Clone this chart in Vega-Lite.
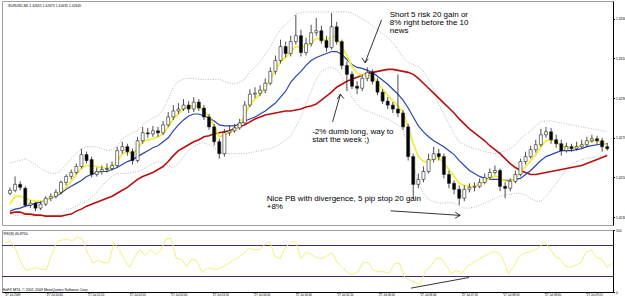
{
  "$schema": "https://vega.github.io/schema/vega-lite/v6.json",
  "padding": {"left": 1, "top": 0, "right": 0, "bottom": 0},
  "background": "white",
  "spacing": 1,
  "config": {
    "font": "Liberation Sans",
    "view": {"stroke": "#a0a0a0", "strokeWidth": 1},
    "text": {"font": "Liberation Sans"},
    "axis": {"labelFont": "Liberation Sans", "labelFontSize": 3.3, "labelColor": "#000", "tickColor": "#000", "domainColor": "#000", "tickSize": 1.5, "labelPadding": 1, "grid": false, "title": null, "labelOverlap": false, "labelBound": false}
  },
  "datasets": {
    "bars": [
      {"i":0,"o":1.4242,"h":1.4245,"l":1.4241,"c":1.42435,"f":1.42365,"m":1.4233,"s":1.4232,"u":1.4257,"d":1.42315,"r":78.6},
      {"i":1,"o":1.42435,"h":1.42505,"l":1.42425,"c":1.42465,"f":1.42405,"m":1.4234,"s":1.42325,"u":1.4258,"d":1.4231,"r":82.8},
      {"i":2,"o":1.42465,"h":1.4248,"l":1.42435,"c":1.4245,"f":1.42405,"m":1.42345,"s":1.42325,"u":1.42585,"d":1.4231,"r":70.8},
      {"i":3,"o":1.42445,"h":1.42455,"l":1.4235,"c":1.4236,"f":1.42395,"m":1.42355,"s":1.42315,"u":1.42595,"d":1.42305,"r":48.4},
      {"i":4,"o":1.4236,"h":1.42385,"l":1.42345,"c":1.4237,"f":1.42385,"m":1.4236,"s":1.42315,"u":1.4258,"d":1.42305,"r":34.8},
      {"i":5,"o":1.4237,"h":1.42375,"l":1.4233,"c":1.42345,"f":1.4238,"m":1.4237,"s":1.4231,"u":1.42565,"d":1.42305,"r":37.0},
      {"i":6,"o":1.42345,"h":1.4238,"l":1.42335,"c":1.42365,"f":1.4238,"m":1.42375,"s":1.4231,"u":1.42545,"d":1.42305,"r":39.1},
      {"i":7,"o":1.42365,"h":1.42405,"l":1.42355,"c":1.42395,"f":1.42385,"m":1.42385,"s":1.42305,"u":1.4253,"d":1.42305,"r":37.0},
      {"i":8,"o":1.42395,"h":1.4242,"l":1.4238,"c":1.42405,"f":1.42395,"m":1.42395,"s":1.42305,"u":1.4252,"d":1.42305,"r":35.9},
      {"i":9,"o":1.42405,"h":1.4244,"l":1.42395,"c":1.42425,"f":1.4241,"m":1.42405,"s":1.42305,"u":1.4252,"d":1.4231,"r":60.9},
      {"i":10,"o":1.42425,"h":1.42485,"l":1.42415,"c":1.42475,"f":1.4243,"m":1.4242,"s":1.42305,"u":1.42535,"d":1.42315,"r":81.3},
      {"i":11,"o":1.42475,"h":1.42515,"l":1.4246,"c":1.42505,"f":1.4245,"m":1.4244,"s":1.4231,"u":1.42565,"d":1.42335,"r":83.9},
      {"i":12,"o":1.42505,"h":1.4254,"l":1.4249,"c":1.42525,"f":1.4248,"m":1.42455,"s":1.42315,"u":1.42595,"d":1.42345,"r":84.8},
      {"i":13,"o":1.42525,"h":1.4257,"l":1.42515,"c":1.42555,"f":1.42515,"m":1.4247,"s":1.4233,"u":1.4262,"d":1.42355,"r":82.8},
      {"i":14,"o":1.42555,"h":1.42645,"l":1.42545,"c":1.42615,"f":1.42545,"m":1.42485,"s":1.4234,"u":1.42645,"d":1.4237,"r":89.1},
      {"i":15,"o":1.42615,"h":1.4263,"l":1.4257,"c":1.42585,"f":1.4256,"m":1.42505,"s":1.42355,"u":1.42655,"d":1.4238,"r":83.9},
      {"i":16,"o":1.4259,"h":1.42605,"l":1.425,"c":1.42515,"f":1.4256,"m":1.42515,"s":1.42365,"u":1.42655,"d":1.424,"r":60.9},
      {"i":17,"o":1.42515,"h":1.4255,"l":1.42505,"c":1.4253,"f":1.42555,"m":1.42525,"s":1.42375,"u":1.42655,"d":1.42425,"r":46.4},
      {"i":18,"o":1.4253,"h":1.4256,"l":1.42515,"c":1.4254,"f":1.4255,"m":1.4253,"s":1.42385,"u":1.42645,"d":1.42455,"r":51.1},
      {"i":19,"o":1.4254,"h":1.4257,"l":1.42525,"c":1.42545,"f":1.42545,"m":1.4253,"s":1.42395,"u":1.42635,"d":1.42485,"r":47.3},
      {"i":20,"o":1.42545,"h":1.4258,"l":1.42535,"c":1.4256,"f":1.42555,"m":1.4254,"s":1.42405,"u":1.4264,"d":1.42505,"r":47.3},
      {"i":21,"o":1.4256,"h":1.42655,"l":1.4255,"c":1.42635,"f":1.4258,"m":1.4255,"s":1.4242,"u":1.42655,"d":1.4252,"r":79.7},
      {"i":22,"o":1.42635,"h":1.4268,"l":1.4262,"c":1.42655,"f":1.4262,"m":1.42565,"s":1.42435,"u":1.42695,"d":1.4252,"r":68.3},
      {"i":23,"o":1.42655,"h":1.4267,"l":1.4261,"c":1.4263,"f":1.4263,"m":1.4258,"s":1.4245,"u":1.4271,"d":1.4252,"r":52.7},
      {"i":24,"o":1.4263,"h":1.42645,"l":1.42565,"c":1.42585,"f":1.4262,"m":1.4259,"s":1.4247,"u":1.42725,"d":1.42525,"r":39.5},
      {"i":25,"o":1.42585,"h":1.42705,"l":1.42575,"c":1.42685,"f":1.42645,"m":1.42605,"s":1.4249,"u":1.42735,"d":1.4253,"r":56.7},
      {"i":26,"o":1.42685,"h":1.42755,"l":1.4267,"c":1.42725,"f":1.4268,"m":1.4262,"s":1.42505,"u":1.42765,"d":1.4254,"r":68.3},
      {"i":27,"o":1.42725,"h":1.4275,"l":1.427,"c":1.4272,"f":1.4269,"m":1.42635,"s":1.42515,"u":1.42785,"d":1.42555,"r":58.9},
      {"i":28,"o":1.4272,"h":1.4276,"l":1.42705,"c":1.42735,"f":1.42695,"m":1.4265,"s":1.42525,"u":1.428,"d":1.4257,"r":68.3},
      {"i":29,"o":1.42735,"h":1.42755,"l":1.42705,"c":1.42725,"f":1.42705,"m":1.4266,"s":1.4254,"u":1.4281,"d":1.4258,"r":60.9},
      {"i":30,"o":1.42725,"h":1.42785,"l":1.42715,"c":1.42765,"f":1.4272,"m":1.4268,"s":1.42555,"u":1.42845,"d":1.42575,"r":67.2},
      {"i":31,"o":1.42765,"h":1.4283,"l":1.42755,"c":1.42805,"f":1.42755,"m":1.427,"s":1.4258,"u":1.42895,"d":1.4256,"r":85.5},
      {"i":32,"o":1.42805,"h":1.42865,"l":1.4279,"c":1.42835,"f":1.42795,"m":1.42735,"s":1.4261,"u":1.42955,"d":1.4255,"r":86.4},
      {"i":33,"o":1.42835,"h":1.42875,"l":1.4282,"c":1.42845,"f":1.4282,"m":1.42765,"s":1.42635,"u":1.42985,"d":1.4257,"r":54.2},
      {"i":34,"o":1.42845,"h":1.42895,"l":1.42835,"c":1.42865,"f":1.42845,"m":1.4279,"s":1.4265,"u":1.42995,"d":1.42605,"r":52.7},
      {"i":35,"o":1.42865,"h":1.42885,"l":1.42825,"c":1.42845,"f":1.42855,"m":1.4281,"s":1.42665,"u":1.43,"d":1.42635,"r":41.1},
      {"i":36,"o":1.42845,"h":1.42905,"l":1.4283,"c":1.4288,"f":1.42865,"m":1.4282,"s":1.4268,"u":1.43,"d":1.42655,"r":53.6},
      {"i":37,"o":1.4288,"h":1.42895,"l":1.42835,"c":1.4285,"f":1.42855,"m":1.4282,"s":1.4269,"u":1.42995,"d":1.4267,"r":49.5},
      {"i":38,"o":1.4285,"h":1.42865,"l":1.4279,"c":1.42805,"f":1.42835,"m":1.4281,"s":1.42705,"u":1.42995,"d":1.42675,"r":31.7},
      {"i":39,"o":1.42805,"h":1.4282,"l":1.4274,"c":1.42755,"f":1.42805,"m":1.428,"s":1.4271,"u":1.42995,"d":1.42665,"r":38.6},
      {"i":40,"o":1.42755,"h":1.4277,"l":1.4266,"c":1.4268,"f":1.4276,"m":1.42785,"s":1.4272,"u":1.42995,"d":1.4265,"r":37.5},
      {"i":41,"o":1.4268,"h":1.42695,"l":1.42595,"c":1.4262,"f":1.42705,"m":1.42765,"s":1.42725,"u":1.42995,"d":1.4263,"r":37.0},
      {"i":42,"o":1.4262,"h":1.42745,"l":1.42605,"c":1.42725,"f":1.42715,"m":1.4276,"s":1.4273,"u":1.42985,"d":1.4262,"r":41.1},
      {"i":43,"o":1.42725,"h":1.4276,"l":1.4271,"c":1.42735,"f":1.42725,"m":1.4276,"s":1.42735,"u":1.42975,"d":1.4262,"r":45.3},
      {"i":44,"o":1.42735,"h":1.4277,"l":1.42725,"c":1.4275,"f":1.4274,"m":1.4276,"s":1.42745,"u":1.4297,"d":1.4262,"r":51.6},
      {"i":45,"o":1.4275,"h":1.42795,"l":1.4274,"c":1.42775,"f":1.42765,"m":1.4277,"s":1.42755,"u":1.4298,"d":1.4262,"r":55.8},
      {"i":46,"o":1.42775,"h":1.42885,"l":1.42765,"c":1.42865,"f":1.42815,"m":1.42785,"s":1.42765,"u":1.42995,"d":1.4262,"r":62.0},
      {"i":47,"o":1.42865,"h":1.42945,"l":1.42855,"c":1.4292,"f":1.42865,"m":1.42795,"s":1.4278,"u":1.43035,"d":1.42625,"r":70.3},
      {"i":48,"o":1.4292,"h":1.42955,"l":1.429,"c":1.42925,"f":1.42895,"m":1.42805,"s":1.42795,"u":1.43055,"d":1.4263,"r":68.3},
      {"i":49,"o":1.42925,"h":1.42965,"l":1.4291,"c":1.4294,"f":1.4292,"m":1.4282,"s":1.42805,"u":1.43085,"d":1.42635,"r":68.3},
      {"i":50,"o":1.4294,"h":1.43,"l":1.42925,"c":1.42975,"f":1.42955,"m":1.42835,"s":1.42815,"u":1.4312,"d":1.4264,"r":76.1},
      {"i":51,"o":1.42975,"h":1.43055,"l":1.42965,"c":1.43035,"f":1.42995,"m":1.42855,"s":1.4282,"u":1.4316,"d":1.42645,"r":81.3},
      {"i":52,"o":1.43035,"h":1.43115,"l":1.4302,"c":1.4309,"f":1.4304,"m":1.42875,"s":1.42825,"u":1.43205,"d":1.42655,"r":57.3},
      {"i":53,"o":1.4309,"h":1.43195,"l":1.43075,"c":1.4316,"f":1.43085,"m":1.42905,"s":1.4283,"u":1.43245,"d":1.4267,"r":53.6},
      {"i":54,"o":1.4316,"h":1.43185,"l":1.43105,"c":1.43125,"f":1.43105,"m":1.42935,"s":1.42835,"u":1.4327,"d":1.4269,"r":70.8},
      {"i":55,"o":1.43125,"h":1.43215,"l":1.4311,"c":1.43185,"f":1.43135,"m":1.4298,"s":1.42835,"u":1.43295,"d":1.4271,"r":80.2},
      {"i":56,"o":1.43185,"h":1.4332,"l":1.4317,"c":1.43215,"f":1.4316,"m":1.4301,"s":1.4284,"u":1.43325,"d":1.42755,"r":81.3},
      {"i":57,"o":1.43215,"h":1.43245,"l":1.4311,"c":1.4313,"f":1.43155,"m":1.43035,"s":1.42845,"u":1.4333,"d":1.42805,"r":53.6},
      {"i":58,"o":1.4313,"h":1.43205,"l":1.43115,"c":1.43175,"f":1.4316,"m":1.43065,"s":1.42855,"u":1.43335,"d":1.4287,"r":64.5},
      {"i":59,"o":1.43175,"h":1.4327,"l":1.4316,"c":1.4323,"f":1.4318,"m":1.4309,"s":1.4286,"u":1.43335,"d":1.42935,"r":60.5},
      {"i":60,"o":1.4323,"h":1.43305,"l":1.43215,"c":1.4324,"f":1.432,"m":1.43105,"s":1.4287,"u":1.43335,"d":1.42995,"r":55.5},
      {"i":61,"o":1.4324,"h":1.43265,"l":1.43175,"c":1.4319,"f":1.432,"m":1.43115,"s":1.4289,"u":1.43335,"d":1.43035,"r":53.9},
      {"i":62,"o":1.4319,"h":1.43215,"l":1.43135,"c":1.43155,"f":1.4319,"m":1.43125,"s":1.4291,"u":1.43335,"d":1.4305,"r":57.8},
      {"i":63,"o":1.43155,"h":1.4333,"l":1.43145,"c":1.4326,"f":1.43215,"m":1.43135,"s":1.4293,"u":1.43335,"d":1.43055,"r":63.3},
      {"i":64,"o":1.4326,"h":1.43285,"l":1.4317,"c":1.43185,"f":1.43205,"m":1.43135,"s":1.42955,"u":1.43335,"d":1.43045,"r":48.4},
      {"i":65,"o":1.43185,"h":1.43195,"l":1.43045,"c":1.43065,"f":1.4316,"m":1.4312,"s":1.4297,"u":1.43335,"d":1.4301,"r":39.8},
      {"i":66,"o":1.43065,"h":1.43085,"l":1.42935,"c":1.4302,"f":1.43115,"m":1.43095,"s":1.42985,"u":1.43335,"d":1.42955,"r":31.7},
      {"i":67,"o":1.4302,"h":1.43035,"l":1.42945,"c":1.4296,"f":1.4306,"m":1.4307,"s":1.42995,"u":1.4333,"d":1.42905,"r":28.1},
      {"i":68,"o":1.4296,"h":1.42985,"l":1.4292,"c":1.4295,"f":1.43025,"m":1.43055,"s":1.43005,"u":1.43315,"d":1.4287,"r":32.0},
      {"i":69,"o":1.4295,"h":1.4302,"l":1.42935,"c":1.43,"f":1.43015,"m":1.4305,"s":1.43015,"u":1.433,"d":1.42845,"r":48.4},
      {"i":70,"o":1.43,"h":1.43055,"l":1.42985,"c":1.4303,"f":1.4302,"m":1.4304,"s":1.43025,"u":1.43285,"d":1.42835,"r":46.9},
      {"i":71,"o":1.4303,"h":1.43045,"l":1.4297,"c":1.42985,"f":1.4301,"m":1.4303,"s":1.4303,"u":1.43265,"d":1.42825,"r":35.2},
      {"i":72,"o":1.42985,"h":1.43,"l":1.42915,"c":1.4293,"f":1.4298,"m":1.4301,"s":1.43035,"u":1.43245,"d":1.42815,"r":32.8},
      {"i":73,"o":1.4293,"h":1.42945,"l":1.4287,"c":1.42885,"f":1.42945,"m":1.4299,"s":1.4304,"u":1.43225,"d":1.42805,"r":32.8},
      {"i":74,"o":1.42885,"h":1.42905,"l":1.42845,"c":1.42865,"f":1.42915,"m":1.4297,"s":1.43045,"u":1.43205,"d":1.42795,"r":29.7},
      {"i":75,"o":1.42865,"h":1.4288,"l":1.42825,"c":1.42845,"f":1.42885,"m":1.42945,"s":1.43045,"u":1.4318,"d":1.4278,"r":45.3},
      {"i":76,"o":1.42845,"h":1.4302,"l":1.42805,"c":1.42825,"f":1.4286,"m":1.4292,"s":1.4304,"u":1.43145,"d":1.42765,"r":46.9},
      {"i":77,"o":1.42825,"h":1.4284,"l":1.4274,"c":1.42755,"f":1.42825,"m":1.4289,"s":1.43035,"u":1.43105,"d":1.42735,"r":24.2},
      {"i":78,"o":1.42755,"h":1.4277,"l":1.42585,"c":1.42605,"f":1.42755,"m":1.4285,"s":1.4303,"u":1.4308,"d":1.4267,"r":19.5},
      {"i":79,"o":1.42605,"h":1.4262,"l":1.42395,"c":1.42465,"f":1.4267,"m":1.42805,"s":1.4302,"u":1.4307,"d":1.4257,"r":15.6},
      {"i":80,"o":1.42465,"h":1.4252,"l":1.42445,"c":1.4249,"f":1.42605,"m":1.4276,"s":1.43,"u":1.4306,"d":1.4247,"r":11.7},
      {"i":81,"o":1.4249,"h":1.42555,"l":1.42475,"c":1.4253,"f":1.4258,"m":1.4273,"s":1.42975,"u":1.43035,"d":1.4242,"r":34.4},
      {"i":82,"o":1.4253,"h":1.4262,"l":1.4252,"c":1.4259,"f":1.4258,"m":1.42705,"s":1.4295,"u":1.42995,"d":1.4239,"r":40.6},
      {"i":83,"o":1.4259,"h":1.42655,"l":1.42575,"c":1.4262,"f":1.42595,"m":1.42685,"s":1.42925,"u":1.42945,"d":1.4238,"r":53.1},
      {"i":84,"o":1.4262,"h":1.42645,"l":1.42585,"c":1.42605,"f":1.426,"m":1.4267,"s":1.429,"u":1.4287,"d":1.4237,"r":55.2},
      {"i":85,"o":1.42605,"h":1.4262,"l":1.42495,"c":1.42515,"f":1.42575,"m":1.42655,"s":1.42875,"u":1.4282,"d":1.4237,"r":43.0},
      {"i":86,"o":1.42515,"h":1.42535,"l":1.42445,"c":1.4247,"f":1.4254,"m":1.42635,"s":1.4285,"u":1.4277,"d":1.42375,"r":29.7},
      {"i":87,"o":1.4247,"h":1.42485,"l":1.42415,"c":1.4244,"f":1.42505,"m":1.42615,"s":1.42825,"u":1.4272,"d":1.4237,"r":35.2},
      {"i":88,"o":1.4244,"h":1.4246,"l":1.4236,"c":1.42395,"f":1.4247,"m":1.42585,"s":1.42795,"u":1.4268,"d":1.42355,"r":29.7},
      {"i":89,"o":1.42395,"h":1.4246,"l":1.4238,"c":1.4244,"f":1.4246,"m":1.4256,"s":1.4277,"u":1.42665,"d":1.42345,"r":40.6},
      {"i":90,"o":1.4244,"h":1.4247,"l":1.42425,"c":1.4245,"f":1.42455,"m":1.42535,"s":1.42745,"u":1.42655,"d":1.42345,"r":46.1},
      {"i":91,"o":1.4245,"h":1.42475,"l":1.4243,"c":1.42455,"f":1.42455,"m":1.4252,"s":1.42725,"u":1.42645,"d":1.4235,"r":50.8},
      {"i":92,"o":1.42455,"h":1.42495,"l":1.42445,"c":1.42475,"f":1.42465,"m":1.42505,"s":1.42705,"u":1.4264,"d":1.4236,"r":56.3},
      {"i":93,"o":1.42475,"h":1.4252,"l":1.42465,"c":1.425,"f":1.4248,"m":1.42495,"s":1.42685,"u":1.4263,"d":1.4237,"r":60.9},
      {"i":94,"o":1.425,"h":1.42545,"l":1.4249,"c":1.42525,"f":1.42495,"m":1.4249,"s":1.4266,"u":1.42625,"d":1.4238,"r":64.8},
      {"i":95,"o":1.42525,"h":1.4256,"l":1.42515,"c":1.42535,"f":1.4251,"m":1.4249,"s":1.4264,"u":1.4262,"d":1.42395,"r":64.1},
      {"i":96,"o":1.42535,"h":1.42545,"l":1.4243,"c":1.42455,"f":1.42495,"m":1.4249,"s":1.4262,"u":1.42625,"d":1.42405,"r":51.6},
      {"i":97,"o":1.42455,"h":1.42475,"l":1.42395,"c":1.42445,"f":1.4248,"m":1.42485,"s":1.42595,"u":1.42635,"d":1.4241,"r":29.7},
      {"i":98,"o":1.42445,"h":1.42495,"l":1.4243,"c":1.4248,"f":1.4248,"m":1.42485,"s":1.4257,"u":1.42645,"d":1.42415,"r":40.6},
      {"i":99,"o":1.4248,"h":1.42535,"l":1.4247,"c":1.42515,"f":1.42495,"m":1.4249,"s":1.4255,"u":1.42665,"d":1.4242,"r":56.3},
      {"i":100,"o":1.42515,"h":1.42595,"l":1.42505,"c":1.4258,"f":1.42525,"m":1.42495,"s":1.42535,"u":1.42695,"d":1.4242,"r":62.5},
      {"i":101,"o":1.4258,"h":1.4263,"l":1.42565,"c":1.42605,"f":1.42555,"m":1.42515,"s":1.42525,"u":1.42715,"d":1.4241,"r":64.8},
      {"i":102,"o":1.42605,"h":1.4266,"l":1.42595,"c":1.4264,"f":1.42585,"m":1.42535,"s":1.42515,"u":1.42735,"d":1.42395,"r":67.2},
      {"i":103,"o":1.4264,"h":1.4269,"l":1.42625,"c":1.42665,"f":1.42615,"m":1.4256,"s":1.42515,"u":1.4276,"d":1.4238,"r":72.7},
      {"i":104,"o":1.42665,"h":1.42745,"l":1.42655,"c":1.42715,"f":1.42655,"m":1.42585,"s":1.4252,"u":1.4278,"d":1.4238,"r":80.9},
      {"i":105,"o":1.42715,"h":1.42755,"l":1.427,"c":1.4273,"f":1.42685,"m":1.42605,"s":1.42525,"u":1.42785,"d":1.42405,"r":70.3},
      {"i":106,"o":1.4273,"h":1.4275,"l":1.4267,"c":1.4269,"f":1.4269,"m":1.42615,"s":1.4253,"u":1.42785,"d":1.42435,"r":57.0},
      {"i":107,"o":1.4269,"h":1.42715,"l":1.4265,"c":1.4267,"f":1.4268,"m":1.42625,"s":1.42535,"u":1.4278,"d":1.4247,"r":53.1},
      {"i":108,"o":1.4267,"h":1.4269,"l":1.4261,"c":1.42635,"f":1.4266,"m":1.42635,"s":1.4254,"u":1.42775,"d":1.42505,"r":41.4},
      {"i":109,"o":1.42635,"h":1.42675,"l":1.42625,"c":1.42655,"f":1.42655,"m":1.42635,"s":1.42545,"u":1.4277,"d":1.4254,"r":39.8},
      {"i":110,"o":1.42655,"h":1.4267,"l":1.4263,"c":1.42645,"f":1.4265,"m":1.42635,"s":1.4255,"u":1.42765,"d":1.42565,"r":43.8},
      {"i":111,"o":1.42645,"h":1.4268,"l":1.42635,"c":1.42655,"f":1.42655,"m":1.4264,"s":1.42555,"u":1.4276,"d":1.4258,"r":47.7},
      {"i":112,"o":1.42655,"h":1.4269,"l":1.42645,"c":1.42665,"f":1.4266,"m":1.42645,"s":1.4256,"u":1.42755,"d":1.4259,"r":64.8},
      {"i":113,"o":1.42665,"h":1.42705,"l":1.42655,"c":1.42685,"f":1.42675,"m":1.42655,"s":1.4257,"u":1.4275,"d":1.42595,"r":67.5},
      {"i":114,"o":1.42685,"h":1.42715,"l":1.42675,"c":1.42695,"f":1.42685,"m":1.4266,"s":1.4258,"u":1.42745,"d":1.426,"r":55.5},
      {"i":115,"o":1.42695,"h":1.4271,"l":1.42665,"c":1.42685,"f":1.42685,"m":1.42665,"s":1.4259,"u":1.4274,"d":1.42605,"r":52.7},
      {"i":116,"o":1.42685,"h":1.427,"l":1.4263,"c":1.42655,"f":1.42675,"m":1.4267,"s":1.426,"u":1.42735,"d":1.4261,"r":39.8},
      {"i":117,"o":1.42655,"h":1.42675,"l":1.42635,"c":1.42645,"f":1.42665,"m":1.4267,"s":1.4261,"u":1.4273,"d":1.42615,"r":46.9}
    ],
    "notes": [
      {"i": 74.4, "p": 1.4334, "txt": ["Short 5 risk 20 gain or", "8% right before the 10", "news"]},
      {"i": 59.2, "p": 1.4275, "txt": ["-2% dumb long, way to", "start the week ;)"]},
      {"i": 50.3, "p": 1.424115, "txt": ["Nice PB with divergence, 5 pip stop 20 gain", "+8%"]}
    ],
    "header": [
      {"i": -0.3, "p": 1.43365, "txt": "EURUSD,M5  1.42655 1.42675 1.42635 1.42645"}
    ],
    "arrows": [
      {"i": 72.8, "p": 1.43295, "i2": 69.56, "p2": 1.430785},
      {"i": 68.92, "p": 1.431035, "i2": 69.56, "p2": 1.430785},
      {"i": 70.19, "p": 1.430985, "i2": 69.56, "p2": 1.430785},
      {"i": 63.2, "p": 1.4278, "i2": 64.74, "p2": 1.4292},
      {"i": 64.1, "p": 1.42895, "i2": 64.74, "p2": 1.4292},
      {"i": 65.38, "p": 1.428985, "i2": 64.74, "p2": 1.4292},
      {"i": 74.57, "p": 1.423315, "i2": 88.19, "p2": 1.423085},
      {"i": 87.22, "p": 1.42325, "i2": 88.19, "p2": 1.423085},
      {"i": 87.22, "p": 1.42295, "i2": 88.19, "p2": 1.423085}
    ],
    "levels": [{"lv": 75}, {"lv": 25}],
    "divergence": [{"i": 78.23, "r": 6.25, "i2": 89.4, "r2": 23.4}],
    "rsitext": [
      {"i": -0.3, "r": 94, "txt": "RSI(8) 46.8750"},
      {"i": -0.4, "r": 3.5, "txt": "EoFX MT4, © 2001-2009 MetaQuotes Software Corp."}
    ]
  },
  "vconcat": [
    {
      "width": 611,
      "height": 224,
      "data": {"name": "bars"},
      "encoding": {
        "x": {"field": "i", "type": "quantitative", "scale": {"domain": [-0.58, 117.15], "nice": false, "zero": false}, "axis": null}
      },
      "layer": [
        {"mark": {"type": "line", "color": "#999", "strokeWidth": 0.7, "strokeDash": [1, 1.5]}, "encoding": {"y": {"field": "u", "type": "quantitative", "scale": {"domain": [1.4226, 1.4339], "nice": false, "zero": false}, "axis": {"orient": "right", "labelOverlap": false, "labelBound": false, "labelFlush": false, "labelSeparation": 0, "values": [1.423, 1.4235, 1.424, 1.4245, 1.425, 1.4255, 1.426, 1.4265, 1.427, 1.4275, 1.428, 1.4285, 1.429, 1.4295, 1.43, 1.4305, 1.431, 1.4315, 1.432, 1.4325, 1.433, 1.4335], "format": ".4f"}}}},
        {"mark": {"type": "line", "color": "#999", "strokeWidth": 0.7, "strokeDash": [1, 1.5]}, "encoding": {"y": {"field": "d", "type": "quantitative", "scale": {"domain": [1.4226, 1.4339], "nice": false, "zero": false}}}},
        {"mark": {"type": "line", "color": "#b80f0f", "strokeWidth": 1.6}, "encoding": {"y": {"field": "s", "type": "quantitative", "scale": {"domain": [1.4226, 1.4339], "nice": false, "zero": false}}}},
        {"mark": {"type": "line", "color": "#2a44b0", "strokeWidth": 1.2}, "encoding": {"y": {"field": "m", "type": "quantitative", "scale": {"domain": [1.4226, 1.4339], "nice": false, "zero": false}}}},
        {"mark": {"type": "line", "color": "#f2ee40", "strokeWidth": 1.8}, "encoding": {"y": {"field": "f", "type": "quantitative", "scale": {"domain": [1.4226, 1.4339], "nice": false, "zero": false}}}},
        {"mark": {"type": "rule", "color": "#222", "strokeWidth": 0.8}, "encoding": {"y": {"field": "l", "type": "quantitative", "scale": {"domain": [1.4226, 1.4339], "nice": false, "zero": false}}, "y2": {"field": "h"}}},
        {"mark": {"type": "bar", "width": 3, "stroke": "#222", "strokeWidth": 0.6}, "encoding": {"y": {"field": "o", "type": "quantitative", "scale": {"domain": [1.4226, 1.4339], "nice": false, "zero": false}}, "y2": {"field": "c"}, "color": {"condition": {"test": "datum.c >= datum.o", "value": "#ffffff"}, "value": "#000000"}}},
        {"data": {"name": "arrows"}, "mark": {"type": "rule", "color": "#000", "strokeWidth": 0.8}, "encoding": {"x2": {"field": "i2"}, "y": {"field": "p", "type": "quantitative", "scale": {"domain": [1.4226, 1.4339], "nice": false, "zero": false}}, "y2": {"field": "p2"}}},
        {"data": {"name": "notes"}, "mark": {"type": "text", "align": "left", "baseline": "top", "fontSize": 8, "lineHeight": 7.8, "color": "#000"}, "encoding": {"y": {"field": "p", "type": "quantitative", "scale": {"domain": [1.4226, 1.4339], "nice": false, "zero": false}}, "text": {"field": "txt"}}},
        {"data": {"name": "header"}, "mark": {"type": "text", "align": "left", "baseline": "middle", "fontSize": 3.4, "color": "#000"}, "encoding": {"y": {"field": "p", "type": "quantitative", "scale": {"domain": [1.4226, 1.4339], "nice": false, "zero": false}}, "text": {"field": "txt"}}}
      ]
    },
    {
      "width": 611,
      "height": 62,
      "layer": [
        {"data": {"name": "levels"}, "mark": {"type": "rule", "color": "#4a2868", "strokeWidth": 1}, "encoding": {"y": {"field": "lv", "type": "quantitative", "scale": {"domain": [0, 100], "nice": false}}}},
        {"data": {"name": "bars"}, "mark": {"type": "line", "color": "#f0ee6a", "strokeWidth": 0.9}, "encoding": {
          "x": {"field": "i", "type": "quantitative", "scale": {"domain": [-0.58, 117.15], "nice": false, "zero": false}, "axis": {"orient": "bottom", "labelFontSize": 2.9, "labelAlign": "left", "labelDx": -1, "tickSize": 1, "labelPadding": 0.5, "labelOverlap": false, "labelBound": false, "labelFlush": false, "labelSeparation": 0, "values": [0, 4, 8, 12, 16, 20, 24, 28, 32, 36, 40, 44, 48, 52, 56, 60, 64, 68, 72, 76, 80, 84, 88, 92, 96, 100, 104, 108, 112, 116], "labelExpr": "utcFormat(utc(2009, 6, 27, 0, datum.value * 5), datum.value == 0 ? '%d %b %Y' : '%d %b %H:%M')"}},
          "y": {"field": "r", "type": "quantitative", "scale": {"domain": [0, 100], "nice": false}, "axis": {"orient": "right", "labelOverlap": false, "labelBound": false, "labelFlush": false, "values": [0, 25, 75, 100]}}
        }},
        {"data": {"name": "divergence"}, "mark": {"type": "rule", "color": "#000", "strokeWidth": 0.8}, "encoding": {"x": {"field": "i", "type": "quantitative"}, "x2": {"field": "i2"}, "y": {"field": "r", "type": "quantitative"}, "y2": {"field": "r2"}}},
        {"data": {"name": "rsitext"}, "mark": {"type": "text", "align": "left", "baseline": "middle", "fontSize": 3.6, "color": "#000"}, "encoding": {"x": {"field": "i", "type": "quantitative"}, "y": {"field": "r", "type": "quantitative"}, "text": {"field": "txt"}}}
      ]
    }
  ]
}
